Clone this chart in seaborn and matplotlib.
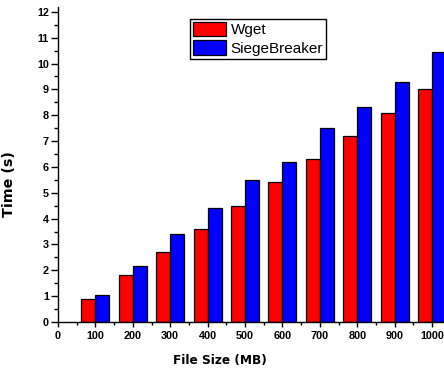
import matplotlib
matplotlib.use("Agg")
import matplotlib.pyplot as plt
import seaborn as sns
import pandas as pd
from matplotlib.ticker import MultipleLocator

sizes = [100, 200, 300, 400, 500, 600, 700, 800, 900, 1000]
wget = [0.9, 1.8, 2.7, 3.6, 4.5, 5.4, 6.3, 7.2, 8.1, 9.0]
siege = [1.04, 2.15, 3.4, 4.4, 5.5, 6.2, 7.5, 8.33, 9.3, 10.43]
series_names = ["Wget", "SiegeBreaker"]

df = pd.DataFrame({
    "size": sizes * 2,
    "time": wget + siege,
    "tool": [series_names[0]] * len(sizes) + [series_names[1]] * len(sizes),
})

sns.set_style("ticks")
plt.rcParams["font.family"] = ["Liberation Sans", "DejaVu Sans"]
for k in ["text.color", "axes.labelcolor", "xtick.color", "ytick.color",
          "xtick.labelcolor", "ytick.labelcolor"]:
    plt.rcParams[k] = "black"

fig = plt.figure(figsize=(4.44, 3.72), dpi=100)
ax = fig.add_axes([58 / 444, 1 - 322 / 372, 1 - 58 / 444, (322 - 6.7) / 372])

sns.barplot(data=df, x="size", y="time", hue="tool", native_scale=True,
            palette=["#ff0000", "#0000ff"], width=0.75, edgecolor="black",
            linewidth=0.9, saturation=1, ax=ax, errorbar=None)

ax.set_xlim(0, 1032)
ax.set_ylim(0, 12.2)
ax.xaxis.set_major_locator(MultipleLocator(100))
ax.xaxis.set_minor_locator(MultipleLocator(50))
ax.yaxis.set_major_locator(MultipleLocator(1))
ax.yaxis.set_minor_locator(MultipleLocator(0.5))
ax.tick_params(axis="both", which="both", direction="out", width=1,
               color="black", labelsize=7.8)
ax.tick_params(axis="x", which="major", length=3.6, pad=3)
ax.tick_params(axis="x", which="minor", length=2.2)
ax.tick_params(axis="y", which="major", length=5, pad=1.5)
ax.tick_params(axis="y", which="minor", length=3)
for lbl in ax.get_xticklabels() + ax.get_yticklabels():
    lbl.set_fontweight("bold")
for s in ["top", "right"]:
    ax.spines[s].set_visible(False)
for s in ["left", "bottom"]:
    ax.spines[s].set_linewidth(1)
    ax.spines[s].set_color("black")

ax.set_xlabel("File Size (MB)", fontsize=8.7, fontweight="bold",
              family="DejaVu Sans", va="top")
ax.xaxis.set_label_coords((220 - 58) / 386, (322 - 354) / 315.3)
ax.set_ylabel("Time (s)", fontsize=10.3, fontweight="bold",
              family="DejaVu Sans")
ax.yaxis.set_label_coords((16 - 58) / 386, (322 - 184) / 315.3)

leg = ax.legend(loc="upper left", bbox_to_anchor=(0.342, 0.961), borderaxespad=0,
                fontsize=11, frameon=True, fancybox=False, edgecolor="black",
                framealpha=1, handlelength=2.16, handleheight=1.05,
                labelspacing=0.2, borderpad=0.2, handletextpad=0.3, title=None)
leg.get_frame().set_linewidth(1)

fig.savefig("out.png", dpi=100)
